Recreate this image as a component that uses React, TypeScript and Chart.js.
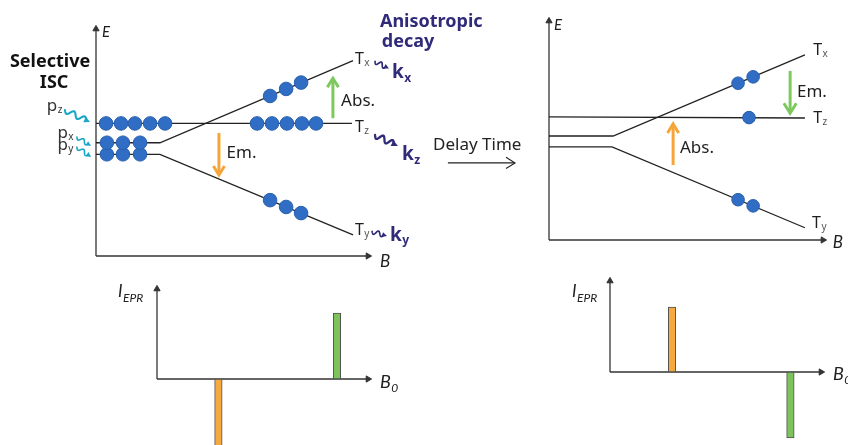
import React, { useEffect, useRef } from "react";
import Chart from "chart.js/auto";

// ---------- data (B field in arbitrary units, energy in arbitrary units) ----------
// Panel A: right after selective ISC
const A_TZ: number[][] = [[0, 5.84], [9.41, 5.84]];
const A_TX: number[][] = [[0, 4.99], [2.35, 4.99], [9.45, 8.61]];
const A_TY: number[][] = [[0, 4.48], [2.35, 4.48], [9.45, 0.93]];
const A_POP_Z: number[][] = [[0.37, 5.84], [0.92, 5.84], [1.43, 5.84], [1.99, 5.84], [2.54, 5.84], [5.92, 5.84], [6.47, 5.84], [7.02, 5.84], [7.57, 5.84], [8.09, 5.84]];
const A_POP_X: number[][] = [[0.4, 4.99], [0.99, 4.99], [1.62, 4.99], [6.4, 7.05], [6.99, 7.36], [7.54, 7.64]];
const A_POP_Y: number[][] = [[0.4, 4.48], [0.99, 4.48], [1.62, 4.48], [6.4, 2.46], [6.99, 2.16], [7.54, 1.89]];
const A_ABS: number[][] = [[8.71, 6.07], [8.71, 7.83]];
const A_EM: number[][] = [[4.52, 5.42], [4.52, 3.57]];

// Panel B: after delay time
const B_TZ: number[][] = [[0, 5.62], [9.34, 5.57]];
const B_TX: number[][] = [[0, 4.75], [2.34, 4.75], [9.34, 8.45]];
const B_TY: number[][] = [[0, 4.25], [2.3, 4.25], [9.34, 0.56]];
const B_POP: number[][] = [[6.9, 7.16], [7.45, 7.45], [7.3, 5.59], [6.9, 1.84], [7.45, 1.56]];
const B_EM: number[][] = [[8.8, 7.72], [8.8, 5.79]];
const B_ABS: number[][] = [[4.53, 3.42], [4.53, 5.3]];

// EPR spectra: [field position, intensity]; first line orange (Tz<->Ty), second green (Tz<->Tx)
const C_SPEC: number[][] = [[2.91, -7.6], [8.53, 7.33]];
const D_SPEC: number[][] = [[2.94, 7.14], [8.55, -7.25]];

// ---------- styles ----------
const FONT = '"Noto Sans", "DejaVu Sans", sans-serif';
const IT = 'Lato, "Noto Sans", sans-serif';
const NAVY = "#2f2b78";
const CYAN = "#1aa6c8";
const DARK = "#1e1e1e";
const LINE = "#222222";
const DOT = "#2f6ec4";
const DOT_EDGE = "#2a5fae";
const GREEN = "#7dc95e";
const ORANGE = "#f5a53a";
const GREEN_BAR = "#7cc35b";
const ORANGE_BAR = "#f6a93f";
const BAR_COLORS = [ORANGE_BAR, GREEN_BAR];

type Txt = { x: number; y: number; text: string; sub?: string; font: string; subFont?: string; color?: string; subColor?: string; align?: CanvasTextAlign; subDy?: number };
type Arw = { p: number[][]; color: string; width: number; head: number; open?: boolean };
type Sqg = { p: number[][]; color: string; width: number; waves: number; amp: number; head: number };

const xy = (a: number[][]) => a.map(([x, y]) => ({ x, y }));

function drawArrow(ctx: CanvasRenderingContext2D, x0: number, y0: number, x1: number, y1: number, a: Arw) {
  const ang = Math.atan2(y1 - y0, x1 - x0);
  const c = Math.cos(ang), s = Math.sin(ang);
  ctx.strokeStyle = a.color;
  ctx.fillStyle = a.color;
  ctx.lineWidth = a.width;
  ctx.lineCap = "butt";
  ctx.lineJoin = "miter";
  ctx.beginPath();
  ctx.moveTo(x0, y0);
  ctx.lineTo(x1 - c * (a.open ? a.width * 0.5 : a.head * 0.8), y1 - s * (a.open ? a.width * 0.5 : a.head * 0.8));
  ctx.stroke();
  const bx = x1 - c * a.head, by = y1 - s * a.head;
  const hw = a.head * 0.62;
  ctx.beginPath();
  ctx.moveTo(bx - s * hw, by + c * hw);
  ctx.lineTo(x1, y1);
  ctx.lineTo(bx + s * hw, by - c * hw);
  if (a.open) {
    ctx.stroke();
  } else {
    ctx.closePath();
    ctx.fill();
  }
}

function drawSquiggle(ctx: CanvasRenderingContext2D, x0: number, y0: number, x1: number, y1: number, q: Sqg) {
  const dx = x1 - x0, dy = y1 - y0;
  const L = Math.hypot(dx, dy);
  const ux = dx / L, uy = dy / L, nx = -uy, ny = ux;
  const Ls = L - q.head * 0.7;
  ctx.strokeStyle = q.color;
  ctx.fillStyle = q.color;
  ctx.lineWidth = q.width;
  ctx.lineCap = "round";
  ctx.lineJoin = "round";
  ctx.beginPath();
  for (let i = 0; i <= 48; i++) {
    const t = i / 48;
    const s = t * Ls;
    const o = q.amp * Math.sin(2 * Math.PI * q.waves * t);
    const X = x0 + ux * s + nx * o, Y = y0 + uy * s + ny * o;
    if (i === 0) ctx.moveTo(X, Y); else ctx.lineTo(X, Y);
  }
  ctx.stroke();
  const bx = x1 - ux * q.head, by = y1 - uy * q.head;
  const hw = q.head * 0.5;
  ctx.beginPath();
  ctx.moveTo(x1, y1);
  ctx.lineTo(bx + nx * hw, by + ny * hw);
  ctx.lineTo(bx - nx * hw, by - ny * hw);
  ctx.closePath();
  ctx.fill();
}

function overlay(texts: Txt[], arrows: Arw[], squiggles: Sqg[]) {
  return {
    id: "overlay",
    afterDatasetsDraw(chart: any) {
      const ctx: CanvasRenderingContext2D = chart.ctx;
      const X = (v: number) => chart.scales.x.getPixelForValue(v);
      const Y = (v: number) => chart.scales.y.getPixelForValue(v);
      ctx.save();
      for (const a of arrows) drawArrow(ctx, X(a.p[0][0]), Y(a.p[0][1]), X(a.p[1][0]), Y(a.p[1][1]), a);
      for (const q of squiggles) drawSquiggle(ctx, X(q.p[0][0]), Y(q.p[0][1]), X(q.p[1][0]), Y(q.p[1][1]), q);
      ctx.textBaseline = "alphabetic";
      for (const t of texts) {
        const px = X(t.x), py = Y(t.y);
        ctx.font = t.font;
        ctx.fillStyle = t.color || DARK;
        ctx.textAlign = t.align || "left";
        ctx.fillText(t.text, px, py);
        if (t.sub) {
          const w = ctx.measureText(t.text).width;
          ctx.font = t.subFont || t.font;
          ctx.fillStyle = t.subColor || t.color || DARK;
          ctx.textAlign = "left";
          ctx.fillText(t.sub, px + w + 0.5, py + (t.subDy || 0));
        }
      }
      ctx.restore();
    },
  };
}

const line = (pts: number[][], color = LINE, w = 1.3) => ({
  data: xy(pts), showLine: true, borderColor: color, borderWidth: w, pointRadius: 0, clip: false, tension: 0,
});
const dots = (pts: number[][], r: number) => ({
  data: xy(pts), showLine: false, pointRadius: r, pointBackgroundColor: DOT, pointBorderColor: DOT_EDGE, pointBorderWidth: 1, clip: false,
});
const axis = (pts: number[][], rot: number) => ({
  data: xy(pts), showLine: true, borderColor: "#333", borderWidth: 1.3, pointRadius: [0, 3.6], pointStyle: "triangle",
  pointRotation: rot, pointBackgroundColor: "#333", pointBorderColor: "#333", pointBorderWidth: 1, clip: false,
});

function options(pad: any, xr: number[], yr: number[]) {
  return {
    responsive: false, maintainAspectRatio: false, animation: false, events: [], devicePixelRatio: 1,
    layout: { padding: pad, autoPadding: false },
    plugins: { legend: { display: false }, tooltip: { enabled: false }, title: { display: false } },
    scales: {
      x: { type: "linear", display: false, offset: false, min: xr[0], max: xr[1] },
      y: { type: "linear", display: false, offset: false, min: yr[0], max: yr[1] },
    },
  };
}

const TF = `16px ${FONT}`, TS = `10px ${FONT}`;
const KF = `bold 19px ${FONT}`, KS = `bold 12px ${FONT}`;

function configA() {
  const texts: Txt[] = [
    { x: 0.22, y: 9.66, text: "E", font: `italic 15px ${IT}` },
    { x: 10.44, y: -0.48, text: "B", font: `italic 17px ${IT}` },
    { x: 9.52, y: 8.48, text: "T", sub: "x", font: TF, subFont: TS, subColor: "#555", subDy: 2 },
    { x: 9.52, y: 5.48, text: "T", sub: "z", font: TF, subFont: TS, subColor: "#555", subDy: 2 },
    { x: 9.52, y: 0.93, text: "T", sub: "y", font: TF, subFont: TS, subColor: "#555", subDy: 2 },
    { x: 9.01, y: 6.61, text: "Abs.", font: `17px ${FONT}` },
    { x: 4.8, y: 4.3, text: "Em.", font: `17px ${FONT}` },
    { x: 10.88, y: 7.84, text: "k", sub: "x", font: KF, subFont: KS, color: NAVY, subDy: 4 },
    { x: 11.25, y: 4.23, text: "k", sub: "z", font: KF, subFont: KS, color: NAVY, subDy: 4 },
    { x: 10.81, y: 0.64, text: "k", sub: "y", font: KF, subFont: KS, color: NAVY, subDy: 3 },
    { x: -1.69, y: 8.31, text: "Selective", font: `bold 18px ${FONT}`, align: "center", color: "#111" },
    { x: -1.54, y: 7.39, text: "ISC", font: `bold 18px ${FONT}`, align: "center", color: "#111" },
    { x: -1.81, y: 6.39, text: "p", sub: "z", font: `17px ${FONT}`, subFont: `10px ${FONT}`, subDy: 2, color: "#333" },
    { x: -1.42, y: 5.22, text: "p", sub: "x", font: `17px ${FONT}`, subFont: `10px ${FONT}`, subDy: 2, color: "#333" },
    { x: -1.42, y: 4.69, text: "p", sub: "y", font: `17px ${FONT}`, subFont: `10px ${FONT}`, subDy: 2, color: "#333" },
    { x: 10.44, y: 10.1, text: "Anisotropic", font: `bold 18px ${FONT}`, color: NAVY },
    { x: 10.51, y: 9.21, text: "decay", font: `bold 18px ${FONT}`, color: NAVY },
  ];
  const arrows: Arw[] = [
    { p: A_ABS, color: GREEN, width: 3, head: 9, open: true },
    { p: A_EM, color: ORANGE, width: 3, head: 9, open: true },
  ];
  const sq: Sqg[] = [
    { p: [[10.26, 8.57], [10.77, 8.26]], color: NAVY, width: 1.7, waves: 1.5, amp: 2.3, head: 5 },
    { p: [[10.26, 5.33], [11.1, 4.85]], color: NAVY, width: 2.3, waves: 2, amp: 3, head: 6.5 },
    { p: [[10.15, 1.08], [10.7, 0.88]], color: NAVY, width: 1.7, waves: 1.5, amp: 2.3, head: 5 },
    { p: [[-1.14, 6.43], [-0.22, 5.9]], color: CYAN, width: 2.1, waves: 2, amp: 2.8, head: 6 },
    { p: [[-0.7, 5.24], [-0.18, 4.85]], color: CYAN, width: 1.6, waves: 1.5, amp: 2, head: 5 },
    { p: [[-0.7, 4.8], [-0.18, 4.36]], color: CYAN, width: 1.6, waves: 1.5, amp: 2, head: 5 },
  ];
  return {
    type: "scatter",
    data: {
      datasets: [
        dots(A_POP_Z, 6.8), dots(A_POP_X, 6.8), dots(A_POP_Y, 6.8),
        line(A_TZ), line(A_TX), line(A_TY),
        axis([[0, 0], [10, 0]], 90), axis([[0, 0], [0, 10]], 0),
      ],
    },
    options: options({ left: 96, right: 480, top: 29, bottom: 189 }, [0, 10], [0, 10]),
    plugins: [overlay(texts, arrows, sq)],
  };
}

function configB() {
  const texts: Txt[] = [
    { x: 0.18, y: 9.59, text: "E", font: `italic 15px ${IT}` },
    { x: 10.36, y: -0.37, text: "B", font: `italic 17px ${IT}` },
    { x: 9.64, y: 8.45, text: "T", sub: "x", font: TF, subFont: TS, subColor: "#555", subDy: 2 },
    { x: 9.64, y: 5.34, text: "T", sub: "z", font: TF, subFont: TS, subColor: "#555", subDy: 2 },
    { x: 9.6, y: 0.56, text: "T", sub: "y", font: TF, subFont: TS, subColor: "#555", subDy: 2 },
    { x: 9.05, y: 6.54, text: "Em.", font: `17px ${FONT}` },
    { x: 4.78, y: 3.97, text: "Abs.", font: `17px ${FONT}` },
    { x: -4.23, y: 4.11, text: "Delay Time", font: `17px ${FONT}`, color: "#222" },
  ];
  const arrows: Arw[] = [
    { p: B_EM, color: GREEN, width: 3, head: 10, open: true },
    { p: B_ABS, color: ORANGE, width: 3, head: 9, open: true },
    { p: [[-3.69, 3.52], [-1.24, 3.52]], color: "#222", width: 1.1, head: 9, open: true },
  ];
  return {
    type: "scatter",
    data: {
      datasets: [
        dots(B_POP, 6.3),
        line(B_TZ), line(B_TX), line(B_TY),
        axis([[0, 0], [10, 0]], 90), axis([[0, 0], [0, 10]], 0),
      ],
    },
    options: options({ left: 549, right: 25, top: 21, bottom: 205 }, [0, 10], [0, 10]),
    plugins: [overlay(texts, arrows, [])],
  };
}

function spectrumConfig(spec: number[][], pad: any, ymin: number, lab: number[][]) {
  const texts: Txt[] = [
    { x: lab[0][0], y: lab[0][1], text: "I", sub: "EPR", font: `italic 17px ${IT}`, subFont: `italic 12px ${IT}`, subDy: 5, color: "#222" },
    { x: lab[1][0], y: lab[1][1], text: "B", sub: "0", font: `italic 18px ${IT}`, subFont: `italic 12px ${IT}`, subDy: 4, color: "#222" },
  ];
  return {
    type: "scatter",
    data: {
      datasets: [
        {
          type: "bar", data: xy(spec), backgroundColor: BAR_COLORS,
          borderColor: "#505050", borderWidth: 1, borderSkipped: false, barThickness: 7.5, clip: false,
        },
        axis([[0, 0], [10, 0]], 90), axis([[0, 0], [0, 10]], 0),
      ],
    },
    options: options(pad, [0, 10], [ymin, 10]),
    plugins: [overlay(texts, [], [])],
  };
}

function Layer({ make }: { make: () => any }) {
  const ref = useRef<HTMLCanvasElement>(null);
  useEffect(() => {
    const chart = new Chart(ref.current as HTMLCanvasElement, make());
    return () => chart.destroy();
  }, []);
  return (
    <canvas ref={ref} width={848} height={445}
      style={{ position: "absolute", left: 0, top: 0, width: 848, height: 445 }} />
  );
}

export default function App() {
  return (
    <div style={{ position: "fixed", left: 0, top: 0, width: 848, height: 445, background: "#fff", overflow: "hidden" }}>
      <Layer make={configA} />
      <Layer make={configB} />
      <Layer make={() => spectrumConfig(C_SPEC, { left: 157, right: 480, top: 289, bottom: 0 }, -7.33, [[-1.85, 9.11], [10.57, -1.0]])} />
      <Layer make={() => spectrumConfig(D_SPEC, { left: 610, right: 27, top: 281, bottom: 0 }, -8.02, [[-1.8, 8.24], [10.57, -0.88]])} />
    </div>
  );
}
